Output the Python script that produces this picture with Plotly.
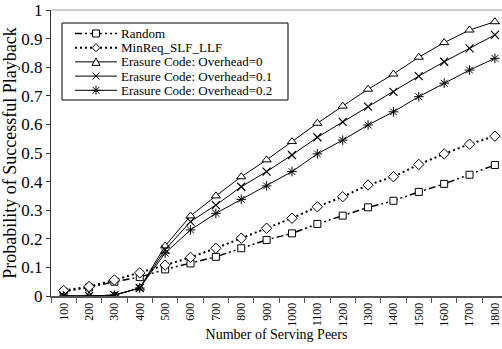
import plotly.graph_objects as go

# Number of serving peers (x categories)
peers = [100, 200, 300, 400, 500, 600, 700, 800, 900, 1000,
         1100, 1200, 1300, 1400, 1500, 1600, 1700, 1800]

# Probability of successful playback per scheme
random_p = [0.015, 0.030, 0.050, 0.066, 0.093, 0.114, 0.137, 0.167, 0.196, 0.219,
            0.252, 0.281, 0.310, 0.333, 0.364, 0.392, 0.424, 0.458]
minreq_p = [0.019, 0.033, 0.056, 0.081, 0.108, 0.135, 0.167, 0.202, 0.237, 0.272,
            0.312, 0.347, 0.388, 0.417, 0.460, 0.497, 0.531, 0.559]
ec0_p = [0.000, 0.000, 0.003, 0.028, 0.175, 0.280, 0.350, 0.417, 0.476, 0.540,
         0.604, 0.664, 0.723, 0.776, 0.835, 0.886, 0.930, 0.959]
ec01_p = [0.000, 0.000, 0.003, 0.028, 0.162, 0.260, 0.318, 0.382, 0.435, 0.493,
          0.555, 0.609, 0.662, 0.714, 0.769, 0.819, 0.866, 0.913]
ec02_p = [0.000, 0.000, 0.003, 0.028, 0.150, 0.231, 0.289, 0.338, 0.385, 0.435,
          0.497, 0.545, 0.598, 0.644, 0.697, 0.744, 0.790, 0.831]

names = ["Random", "MinReq_SLF_LLF", "Erasure Code: Overhead=0",
         "Erasure Code: Overhead=0.1", "Erasure Code: Overhead=0.2"]

FONT = "Liberation Serif"
DASH_RANDOM = "7px,3px,2px,3px,2px,3px"
DASH_MINREQ = "2px,3px"

series = [
    (random_p, dict(dash=DASH_RANDOM, width=1.5),
     dict(symbol="square", size=7, color="white", line=dict(color="black", width=1))),
    (minreq_p, dict(dash=DASH_MINREQ, width=2),
     dict(symbol="diamond", size=8, color="white", line=dict(color="black", width=1))),
    (ec0_p, dict(dash="solid", width=1),
     dict(symbol="triangle-up", size=8, color="white", line=dict(color="black", width=1))),
    (ec01_p, dict(dash="solid", width=1),
     dict(symbol="x-thin-open", size=8, color="black", line=dict(color="black", width=1.2))),
    (ec02_p, dict(dash="solid", width=1),
     dict(symbol="asterisk-open", size=8, color="black", line=dict(color="black", width=1))),
]

fig = go.Figure()
for (vals, line, marker), name in zip(series, names):
    fig.add_trace(go.Scatter(
        x=peers, y=vals, name=name, mode="lines+markers",
        line=dict(color="black", **line), marker=marker, showlegend=False,
    ))

# Plot-area geometry in pixels, used to place the key box
L, R, T, B = 51, 502, 10, 296
W, H = R - L, B - T


def px(x):
    return (x - L) / W


def py(y):
    return (B - y) / H


shapes = [
    # top frame line
    dict(type="line", xref="paper", yref="paper", x0=0, x1=1, y0=1, y1=1,
         line=dict(color="#9a9a9a", width=1)),
    # key box
    dict(type="rect", xref="paper", yref="paper", x0=px(62), x1=px(288),
         y0=py(100), y1=py(23), line=dict(color="black", width=1),
         fillcolor="white", layer="above"),
]
annotations = []

key_marks = [
    ("M-3.5,-3.5H3.5V3.5H-3.5Z", "white"),
    ("M0,-4L4,0L0,4L-4,0Z", "white"),
    ("M-4,-3.5L4,-3.5L0,4Z", "white"),
    ("M-3.5,-3.5L3.5,3.5M-3.5,3.5L3.5,-3.5", None),
    ("M-3.5,-3.5L3.5,3.5M-3.5,3.5L3.5,-3.5M0,-4.5L0,4.5M-4.5,0L4.5,0", None),
]
key_dash = [DASH_RANDOM, DASH_MINREQ, "solid", "solid", "solid"]
key_width = [1.5, 2, 1, 1, 1]
rows = [33.5, 47.7, 61.9, 76.1, 90.3]

for name, row, dash, lw, (path, fill) in zip(names, rows, key_dash, key_width, key_marks):
    shapes.append(dict(type="line", xref="paper", yref="paper",
                       x0=px(75), x1=px(117), y0=py(row), y1=py(row),
                       line=dict(color="black", width=lw, dash=dash), layer="above"))
    mark = dict(type="path", xref="paper", yref="paper",
                xsizemode="pixel", ysizemode="pixel",
                xanchor=px(96), yanchor=py(row), path=path,
                line=dict(color="black", width=1), layer="above")
    if fill:
        mark["fillcolor"] = fill
    shapes.append(mark)
    annotations.append(dict(xref="paper", yref="paper", x=px(120), y=py(row),
                            xanchor="left", yanchor="middle", showarrow=False,
                            borderpad=0,
                            text=name, font=dict(family=FONT, size=13, color="black")))

fig.update_layout(
    width=502, height=349,
    margin=dict(l=L, r=0, t=T, b=349 - B),
    paper_bgcolor="white", plot_bgcolor="white",
    font=dict(family=FONT, color="black"),
    shapes=shapes, annotations=annotations,
    xaxis=dict(
        range=[50, 1828], tickvals=peers, ticktext=[str(p) for p in peers],
        tickangle=-90, ticks="outside", ticklen=0, tickfont=dict(size=12),
        showline=True, linecolor="#555555", linewidth=2, showgrid=False, zeroline=False,
        minor=dict(tickvals=[p + 50 for p in peers[:-1]] + [50], ticks="outside",
                   ticklen=5, tickcolor="#555555", tickwidth=1),
        title=dict(text="Number of Serving Peers", font=dict(size=14), standoff=2),
    ),
    yaxis=dict(
        range=[0, 1], dtick=0.1, tick0=0, ticks="outside", ticklen=4,
        tickcolor="#333333", tickfont=dict(size=17),
        showline=True, linecolor="#333333", linewidth=1, showgrid=False, zeroline=False,
        title=dict(text="Probability of Successful Playback", font=dict(size=18), standoff=4),
    ),
)

fig.write_html("out.html")
